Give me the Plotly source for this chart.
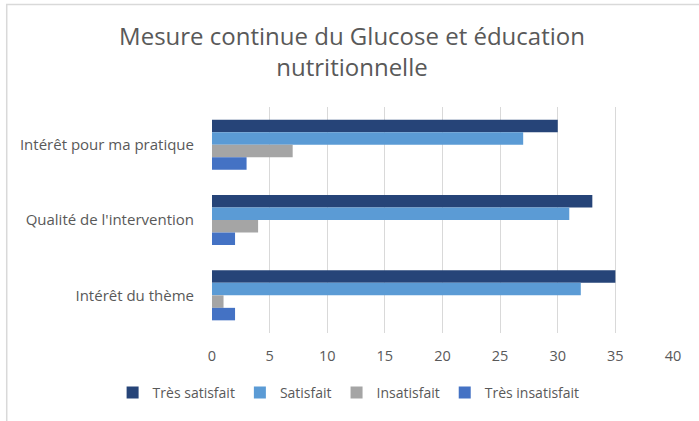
import plotly.graph_objects as go

categories = ["Intérêt pour ma pratique", "Qualité de l'intervention", "Intérêt du thème"]
series_names = ["Très satisfait", "Satisfait", "Insatisfait", "Très insatisfait"]
tres_satisfait = [30, 33, 35]
satisfait = [27, 31, 32]
insatisfait = [7, 4, 1]
tres_insatisfait = [3, 2, 2]
x_ticks = [0, 5, 10, 15, 20, 25, 30, 35, 40]

values = [tres_satisfait, satisfait, insatisfait, tres_insatisfait]
colors = ["#264478", "#5B9BD5", "#A5A5A5", "#4472C4"]

W, H = 699, 421
ml, mr, mt, mb = 211.5, 26, 107, 88
pw, ph = W - ml - mr, H - mt - mb

fig = go.Figure()
for name, vals, col in zip(series_names, values, colors):
    fig.add_trace(go.Bar(
        y=categories, x=vals, name=name, orientation="h",
        marker=dict(color=col, line=dict(width=0)),
    ))

font_family = "Open Sans, Liberation Sans, sans-serif"
gray = "#595959"
small = 14.5

# chart border (left and top visible)
bx = (6 - ml) / pw
by = 1 + (mt - 4.5) / ph
bottom = -(mb + 5) / ph
right = 1 + (mr + 5) / pw

fig.update_layout(
    width=W, height=H,
    margin=dict(l=ml, r=mr, t=mt, b=mb, autoexpand=False),
    paper_bgcolor="white", plot_bgcolor="white",
    barmode="group", bargap=0.336, bargroupgap=0,
    title=dict(
        text="Mesure continue du Glucose et éducation<br>nutritionnelle",
        x=352 / W, xanchor="center", xref="container",
        y=1 - 45 / H, yanchor="top", yref="container",
        font=dict(family=font_family, size=24, color=gray),
    ),
    font=dict(family=font_family, size=small, color=gray),
    xaxis=dict(
        range=[0, 40], tickvals=x_ticks, ticktext=[str(v) for v in x_ticks],
        showgrid=True, gridcolor="#D9D9D9", gridwidth=1,
        zeroline=False, showline=False, ticks="",
        ticklabelstandoff=12,
        tickfont=dict(size=small, color=gray),
        fixedrange=True,
    ),
    yaxis=dict(
        autorange="reversed", showgrid=False, zeroline=False, showline=False,
        ticks="", ticklabelstandoff=17,
        tickfont=dict(size=15, color=gray),
        fixedrange=True,
    ),
    legend=dict(
        orientation="h", xref="paper", x=(112 - ml) / pw, xanchor="left",
        yref="paper", y=(mt + ph - 393) / ph, yanchor="middle",
        font=dict(size=14, color=gray), traceorder="normal",
    ),
    showlegend=True,
    shapes=[dict(
        type="path", xref="paper", yref="paper",
        path=f"M {bx} {bottom} L {bx} {by} L {right} {by}",
        line=dict(color="#D9D9D9", width=1.5),
    )],
)

fig.write_html(
    "out.html",
    config={"displayModeBar": False},
    post_script="document.body.style.margin='0';document.body.style.padding='0';",
)
